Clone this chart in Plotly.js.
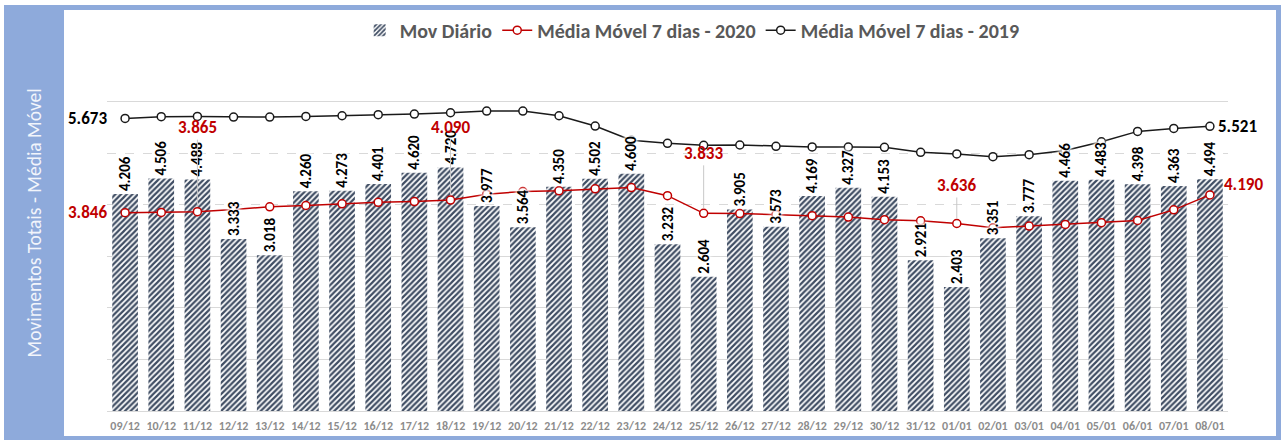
<!DOCTYPE html>
<html><head><meta charset="utf-8">
<script src="https://cdn.plot.ly/plotly-3.0.1.min.js"></script>
<style>
html,body{margin:0;padding:0;background:#fff;}
#wrap{position:relative;width:1284px;height:441px;overflow:hidden;}
#frame{position:absolute;left:4px;top:5px;width:1277px;height:435px;background:#8eaadb;}
#panel{position:absolute;left:64px;top:10px;width:1212px;height:426px;background:#fff;}
#chart{position:absolute;left:0;top:0;width:1284px;height:441px;}
</style></head><body>
<div id="wrap"><div id="frame"></div><div id="panel"></div><div id="chart"></div></div>
<script>
const categories = ['09/12','10/12','11/12','12/12','13/12','14/12','15/12','16/12','17/12','18/12','19/12','20/12','21/12','22/12','23/12','24/12','25/12','26/12','27/12','28/12','29/12','30/12','31/12','01/01','02/01','03/01','04/01','05/01','06/01','07/01','08/01'];
const movDiario = [4206,4506,4488,3333,3018,4260,4273,4401,4620,4720,3977,3564,4350,4502,4600,3232,2604,3905,3573,4169,4327,4153,2921,2403,3351,3777,4466,4483,4398,4363,4494];
const mm2020 = [3846,3850,3865,3905,3960,3985,4017,4046,4062,4090,4205,4255,4270,4308,4333,4175,3833,3828,3810,3787,3760,3710,3688,3636,3552,3586,3618,3652,3694,3900,4190];
const mm2019 = [5673,5706,5712,5700,5700,5712,5725,5745,5758,5783,5816,5816,5725,5526,5250,5190,5151,5158,5132,5120,5118,5112,5016,4984,4932,4971,5050,5220,5422,5480,5521];
const seriesNames = ['Mov Diário','Média Móvel 7 dias - 2020','Média Móvel 7 dias - 2019'];
const yTitle = 'Movimentos Totais - Média Móvel';

const FONT = 'Carlito, Calibri, "Liberation Sans", Arial, sans-serif';
const RED = '#c00000';
const BLACK = '#1a1a1a';
function fmt(v){ const s = String(Math.round(v)); return s.slice(0,-3) + '.' + s.slice(-3); }
const HALO = '0 0 2px #fff, 0 0 3px #fff, 0 0 4px #fff, 0 0 5px #fff, 0 0 6px #fff';

const traces = [
  {type:'bar', name:seriesNames[0], x:categories, y:movDiario, yaxis:'y',
   marker:{color:'#ffffff', line:{width:0},
     pattern:{shape:'/', fgcolor:'#3f4d63', bgcolor:'#ffffff', size:4, solidity:0.55}},
   hoverinfo:'skip'},
  {type:'scatter', mode:'lines+markers', name:seriesNames[1], x:categories, y:mm2020, yaxis:'y',
   line:{color:RED, width:1.5}, marker:{symbol:'circle', size:8, color:'#ffffff', line:{color:RED, width:1.5}},
   hoverinfo:'skip'},
  {type:'scatter', mode:'lines+markers', name:seriesNames[2], x:categories, y:mm2019, yaxis:'y',
   line:{color:BLACK, width:1.5}, marker:{symbol:'circle', size:8, color:'#ffffff', line:{color:BLACK, width:1.5}},
   hoverinfo:'skip'},
  // value labels of the daily bars, drawn on the overlay axis so they sit above the lines
  {type:'bar', name:'labels', x:categories, y:movDiario, yaxis:'y2', showlegend:false,
   marker:{color:'rgba(0,0,0,0)', line:{width:0}},
   texttemplate:'%{y:,.0f}', textposition:'outside', textangle:-90, constraintext:'none', cliponaxis:false,
   textfont:{family:FONT, size:15, color:'#000000', weight:'bold', shadow:HALO},
   hoverinfo:'skip'}
];

const annotations = [];
const red2020Callouts = [{i:2, ay:-84},{i:9, ay:-73},{i:16, ay:-60},{i:23, ay:-38}];
red2020Callouts.forEach(c=>{
  annotations.push({x:categories[c.i], y:mm2020[c.i], xref:'x', yref:'y', text:fmt(mm2020[c.i]),
    showarrow:true, arrowhead:0, arrowwidth:1, arrowcolor:'#c8c8c8', ax:0, ay:c.ay, standoff:5,
    font:{family:FONT, size:17, color:RED, weight:'bold'}});
});
const lastI = categories.length - 1;
annotations.push({x:categories[0], y:mm2020[0], xref:'x', yref:'y', text:fmt(mm2020[0]), showarrow:false,
  xanchor:'right', xshift:-16, font:{family:FONT, size:17, color:RED, weight:'bold'}});
annotations.push({x:categories[lastI], y:mm2020[lastI], xref:'x', yref:'y', text:fmt(mm2020[lastI]), showarrow:false,
  xanchor:'left', xshift:12, yshift:10, font:{family:FONT, size:17, color:RED, weight:'bold'}});
annotations.push({x:categories[0], y:mm2019[0], xref:'x', yref:'y', text:fmt(mm2019[0]), showarrow:false,
  xanchor:'right', xshift:-16, font:{family:FONT, size:17, color:'#000000', weight:'bold'}});
annotations.push({x:categories[lastI], y:mm2019[lastI], xref:'x', yref:'y', text:fmt(mm2019[lastI]), showarrow:false,
  xanchor:'left', xshift:6, font:{family:FONT, size:17, color:'#000000', weight:'bold'}});
annotations.push({xref:'paper', yref:'paper', x:-0.0652, y:0.522, text:yTitle, textangle:-90, showarrow:false,
  xanchor:'center', yanchor:'middle', font:{family:FONT, size:19.5, color:'#f2f5fb'}});

const layout = {
  width:1284, height:441,
  margin:{l:107, r:56, t:49, b:30},
  paper_bgcolor:'rgba(0,0,0,0)', plot_bgcolor:'rgba(0,0,0,0)',
  separators:',.',
  bargap:0.29,
  showlegend:true,
  legend:{orientation:'h', x:0.522, xanchor:'center', y:1.052, yanchor:'middle',
    font:{family:FONT, size:20, color:'#595959', weight:'bold'}, bgcolor:'rgba(0,0,0,0)', itemwidth:30, traceorder:'normal'},
  xaxis:{type:'category', categoryorder:'array', categoryarray:categories, range:[-0.5, categories.length-0.5],
    showline:true, linecolor:'#d9d9d9', linewidth:1, ticks:'', showgrid:false, zeroline:false,
    tickfont:{family:FONT, size:12, color:'#8c8c8c', weight:'bold'}, ticklabelstandoff:4, fixedrange:true},
  yaxis:{range:[0,7000], tickvals:[1000,2000,3000,6000,7000], showgrid:true, gridcolor:'#d9d9d9', gridwidth:1,
    showticklabels:false, zeroline:false, showline:false, ticks:'', fixedrange:true},
  yaxis2:{range:[0,7000], overlaying:'y', side:'left', tickvals:[4000,5000], showgrid:true, gridcolor:'#d9d9d9',
    griddash:'dash', gridwidth:1, showticklabels:false, zeroline:false, showline:false, ticks:'', fixedrange:true},
  annotations:annotations,
  font:{family:FONT}
};

Plotly.newPlot('chart', traces, layout, {displayModeBar:false, staticPlot:true});
</script>
</body></html>
